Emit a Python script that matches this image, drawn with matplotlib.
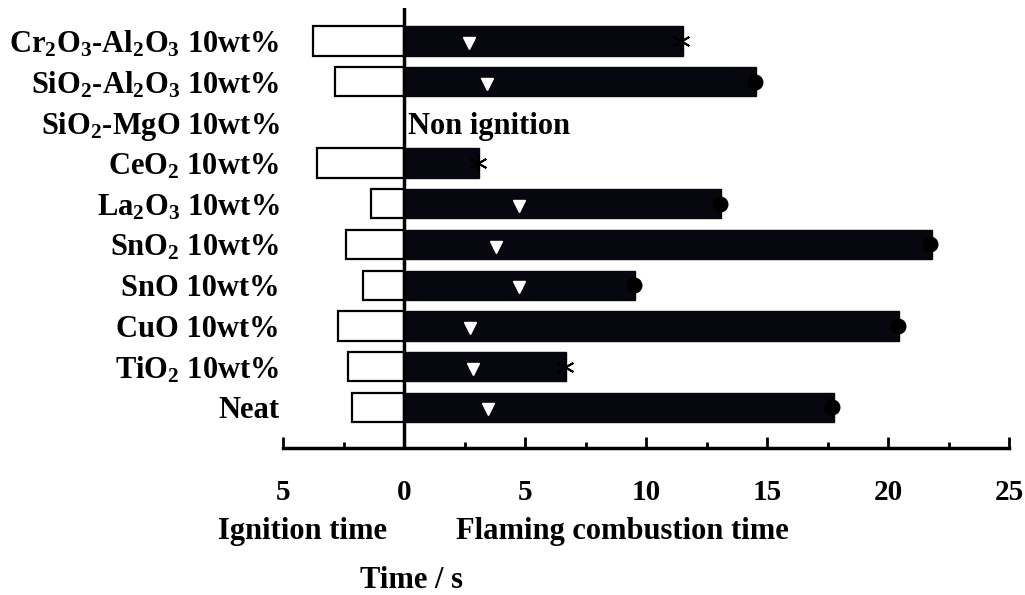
import matplotlib
matplotlib.use('Agg')
import matplotlib.pyplot as plt
from matplotlib.ticker import FixedLocator, FuncFormatter

plt.rcParams['font.family'] = ['Liberation Serif', 'DejaVu Serif']
plt.rcParams['font.weight'] = 'bold'
plt.rcParams['mathtext.fontset'] = 'custom'
plt.rcParams['mathtext.rm'] = 'Liberation Serif:bold'
plt.rcParams['mathtext.it'] = 'Liberation Serif:bold'
plt.rcParams['mathtext.bf'] = 'Liberation Serif:bold'

# data, top row first
labels = ['Cr$_2$O$_3$-Al$_2$O$_3$ 10wt%', 'SiO$_2$-Al$_2$O$_3$ 10wt%', 'SiO$_2$-MgO 10wt%',
          'CeO$_2$ 10wt%', 'La$_2$O$_3$ 10wt%', 'SnO$_2$ 10wt%', 'SnO 10wt%',
          'CuO 10wt%', 'TiO$_2$ 10wt%', 'Neat']
ignition = [3.8, 2.85, None, 3.6, 1.4, 2.4, 1.7, 2.75, 2.35, 2.15]
flaming = [11.45, 14.5, None, 3.05, 13.05, 21.75, 9.5, 20.4, 6.65, 17.7]
triangle = [2.65, 3.4, None, None, 4.75, 3.8, 4.75, 2.7, 2.85, 3.45]
end_mark = ['star', 'dot', None, 'star', 'dot', 'dot', 'dot', 'dot', 'star', 'dot']

fig = plt.figure(figsize=(10.25, 5.95), dpi=100)
ax = fig.add_axes([283.5 / 1025, 1 - 448 / 595, (1009 - 283.5) / 1025, 440 / 595])

h = 0.72
for i in range(len(labels)):
    if ignition[i] is not None:
        ax.barh(i, -ignition[i], height=h, left=0, color='white', edgecolor='black', linewidth=1.6, zorder=2)
    if flaming[i] is not None:
        ax.barh(i, flaming[i], height=h, left=0.05, color='#07070f', edgecolor='#07070f', linewidth=1, zorder=2)
        if end_mark[i] == 'dot':
            ax.plot(flaming[i], i, marker='o', markersize=10.5, color='black', zorder=4)
        else:
            ax.plot(flaming[i], i, marker=(6, 2, 0), markersize=13, color='black', markeredgewidth=1.4, zorder=4)
    if triangle[i] is not None:
        ax.plot(triangle[i], i + 0.05, marker='v', markersize=9, color='white', markeredgecolor='white', zorder=5)

ax.text(0.15, 2.1, 'Non ignition', fontsize=22, fontweight='bold', va='center', ha='left')

ax.axvline(0, color='black', linewidth=2.5, zorder=3)
ax.set_xlim(-5, 25)
ax.set_ylim(10.0, -0.81)

for s in ['left', 'right', 'top']:
    ax.spines[s].set_visible(False)
ax.spines['bottom'].set_linewidth(2.5)

ax.xaxis.set_major_locator(FixedLocator([-5, 0, 5, 10, 15, 20, 25]))
ax.xaxis.set_minor_locator(FixedLocator([-2.5, 2.5, 7.5, 12.5, 17.5, 22.5]))
ax.xaxis.set_major_formatter(FuncFormatter(lambda v, p: '%d' % abs(v)))
ax.tick_params(axis='x', which='major', direction='in', length=8, width=2, pad=22, labelsize=21)
ax.tick_params(axis='x', which='minor', direction='in', length=4.5, width=2)
for t in ax.get_xticklabels():
    t.set_fontweight('bold')

ax.set_yticks(range(len(labels)))
ax.set_yticklabels(labels, fontsize=22, fontweight='bold')
ax.tick_params(axis='y', length=0, pad=3)

fig.text(303 / 1025, 1 - 532 / 595, 'Ignition time', fontsize=22, fontweight='bold', ha='center', va='center')
fig.text(622 / 1025, 1 - 532 / 595, 'Flaming combustion time', fontsize=22, fontweight='bold', ha='center', va='center')
fig.text(412 / 1025, 1 - 580 / 595, 'Time / s', fontsize=22, fontweight='bold', ha='center', va='center')

fig.savefig('out.png', dpi=100)
